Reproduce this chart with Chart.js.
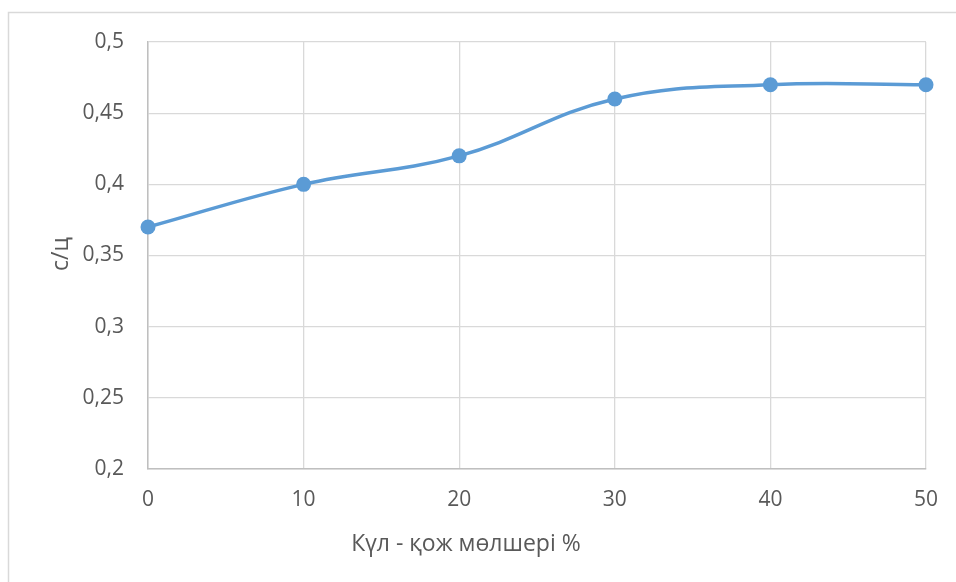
<!DOCTYPE html>
<html>
<head>
<meta charset="utf-8">
<script src="https://cdn.jsdelivr.net/npm/chart.js@4"></script>
<style>
  html, body { margin: 0; padding: 0; background: #ffffff; }
  #wrap { position: relative; width: 956px; height: 582px; }
</style>
</head>
<body>
<div id="wrap"><canvas id="c" width="956" height="582"></canvas></div>
<script>
// Ash-slag content (%) and measured value (с/ц)
const ashSlagPercent = [0, 10, 20, 30, 40, 50];
const costValues = [0.37, 0.40, 0.42, 0.46, 0.47, 0.47];
const xTickValues = [0, 10, 20, 30, 40, 50];
const yTickValues = [0.2, 0.25, 0.3, 0.35, 0.4, 0.45, 0.5];
const yTickLabels = ['0,2', '0,25', '0,3', '0,35', '0,4', '0,45', '0,5'];
const xAxisTitle = 'Күл - қож мөлшері %';
const yAxisTitle = 'с/ц';

const FONT = '"Open Sans", "DejaVu Sans", sans-serif';
const TEXT = '#595959';

// outer frame and axis titles
const decor = {
  id: 'decor',
  beforeDraw(chart) {
    const ctx = chart.ctx;
    ctx.save();
    ctx.fillStyle = '#ffffff';
    ctx.fillRect(0, 0, chart.width, chart.height);
    ctx.strokeStyle = '#d9d9d9';
    ctx.lineWidth = 1.5;
    ctx.strokeRect(8.5, 12.5, 2000, 2000);
    ctx.restore();
  },
  afterDraw(chart) {
    const ctx = chart.ctx;
    ctx.save();
    ctx.fillStyle = TEXT;
    ctx.font = '23px ' + FONT;
    ctx.textAlign = 'center';
    ctx.textBaseline = 'middle';
    ctx.fillText(xAxisTitle, 466, 544);
    ctx.translate(61, 254);
    ctx.rotate(-Math.PI / 2);
    ctx.fillText(yAxisTitle, 0, 0);
    ctx.restore();
  }
};

new Chart(document.getElementById('c'), {
  type: 'line',
  data: {
    datasets: [{
      data: ashSlagPercent.map((x, i) => ({ x: x, y: costValues[i] })),
      borderColor: '#5b9bd5',
      backgroundColor: '#5b9bd5',
      borderWidth: 3.5,
      pointRadius: 7.5,
      pointHoverRadius: 7.5,
      pointBorderWidth: 0,
      tension: 0.4,
      fill: false,
      clip: false
    }]
  },
  options: {
    responsive: false,
    animation: false,
    events: [],
    layout: { padding: { top: 42, right: 30, left: 0, bottom: 0 } },
    plugins: { legend: { display: false }, tooltip: { enabled: false } },
    scales: {
      x: {
        type: 'linear',
        min: 0, max: 50,
        afterFit(s) { s.height = 113; },
        afterBuildTicks(s) { s.ticks = xTickValues.map(v => ({ value: v })); },
        ticks: {
          color: TEXT,
          font: { family: FONT, size: 21 },
          padding: 18,
          maxRotation: 0,
          callback: v => String(v)
        },
        grid: { color: '#d9d9d9', lineWidth: 1.3, drawTicks: false },
        border: { color: '#bfbfbf', width: 1.5 }
      },
      y: {
        min: 0.2, max: 0.5,
        afterFit(s) { s.width = 148; },
        afterBuildTicks(s) { s.ticks = yTickValues.map(v => ({ value: v })); },
        ticks: {
          color: TEXT,
          font: { family: FONT, size: 21 },
          padding: 24,
          callback: (v, i) => yTickLabels[i]
        },
        grid: { color: '#d9d9d9', lineWidth: 1.3, drawTicks: false },
        border: { color: '#bfbfbf', width: 1.5 }
      }
    }
  },
  plugins: [decor]
});
</script>
</body>
</html>
